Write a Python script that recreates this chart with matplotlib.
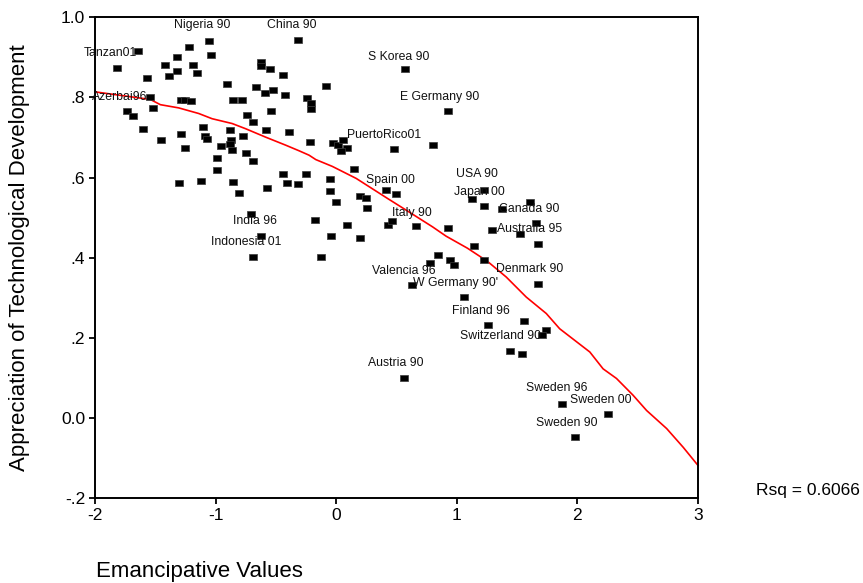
import matplotlib
matplotlib.use("Agg")
import matplotlib.pyplot as plt
from matplotlib.ticker import FixedLocator, FixedFormatter

plt.rcParams['font.family'] = ['Liberation Sans', 'DejaVu Sans']

# ---- data: Emancipative Values (x) vs Appreciation of Technological Development (y)
emancipative = [
    -1.64, -1.819, -1.569, -1.422, -1.320, -1.217, -1.051, -1.037, -1.187, -1.154,
    -1.320, -1.389, -0.317, -0.622, -0.622, -0.552, -0.439, -0.904, -0.668, -0.591,
    -0.522, -0.425, -1.541, -1.736, -1.686, -1.520, -1.283, -1.250, -1.200, -0.857,
    -0.785, -0.539, -0.738, -1.603, -1.104, -0.884, -0.688, -0.585, -0.391, -1.450,
    -1.287, -1.090, -1.071, -0.871, -0.771, -1.250, -0.954, -0.884, -0.868, -0.751,
    -0.987, -0.688, -0.987, -0.439, -1.119, -0.854, 0.573, -0.086, -0.239, -0.211,
    -0.206, 0.925, -0.219, -0.026, 0.012, 0.058, 0.093, 0.041, 0.477, 0.806,
    0.146, -0.254, -0.055, -0.317, -0.055, 0.412, 0.494, 0.195, 0.246, -0.003,
    0.259, -0.177, 0.093, 0.426, 0.462, 0.662, 0.925, -0.040, 0.195, -0.123,
    1.224, 1.127, 1.224, 1.377, 1.610, 1.658, 1.294, 1.523, 1.674, 1.144,
    0.843, 0.775, 0.944, 0.978, 1.224, 0.627, 1.057, 1.676, 1.259, 1.556,
    1.742, 1.709, 1.443, 1.543, 0.559, 1.872, 2.255, 1.978, -0.705, -0.622,
    -0.688, -1.306, -0.807, -0.572, -0.406,
]
technology = [
    0.916, 0.873, 0.849, 0.882, 0.901, 0.926, 0.941, 0.905, 0.882, 0.861,
    0.865, 0.853, 0.944, 0.888, 0.878, 0.870, 0.857, 0.833, 0.825, 0.810,
    0.818, 0.805, 0.801, 0.766, 0.753, 0.774, 0.793, 0.793, 0.790, 0.793,
    0.793, 0.766, 0.757, 0.722, 0.726, 0.718, 0.738, 0.718, 0.713, 0.693,
    0.710, 0.703, 0.697, 0.693, 0.705, 0.675, 0.678, 0.685, 0.670, 0.661,
    0.650, 0.641, 0.618, 0.610, 0.591, 0.590, 0.870, 0.829, 0.799, 0.785,
    0.770, 0.766, 0.689, 0.686, 0.681, 0.693, 0.675, 0.666, 0.672, 0.682,
    0.622, 0.610, 0.596, 0.585, 0.566, 0.570, 0.558, 0.553, 0.550, 0.538,
    0.523, 0.494, 0.483, 0.483, 0.491, 0.479, 0.474, 0.454, 0.450, 0.403,
    0.570, 0.546, 0.529, 0.521, 0.538, 0.487, 0.470, 0.459, 0.434, 0.430,
    0.406, 0.386, 0.395, 0.383, 0.394, 0.331, 0.303, 0.335, 0.232, 0.242,
    0.220, 0.207, 0.167, 0.159, 0.099, 0.036, 0.011, -0.047, 0.510, 0.454,
    0.402, 0.587, 0.562, 0.574, 0.587,
]

# ---- fitted (loess-type) curve
fit_x = [-2.0, -1.541, -1.458, -1.306, -1.140, -1.029, -0.863, -0.751, -0.585, -0.419,
         -0.308, -0.225, -0.169, -0.032, 0.166, 0.426, 0.606, 0.800, 0.911, 1.088,
         1.255, 1.410, 1.576, 1.742, 1.853, 2.103, 2.213, 2.324, 2.462, 2.574,
         2.740, 2.878, 3.0]
fit_y = [0.814, 0.795, 0.782, 0.774, 0.760, 0.747, 0.735, 0.722, 0.701, 0.681,
         0.667, 0.656, 0.645, 0.628, 0.598, 0.548, 0.514, 0.477, 0.454, 0.424,
         0.391, 0.352, 0.302, 0.261, 0.223, 0.165, 0.123, 0.099, 0.057, 0.019,
         -0.026, -0.073, -0.118]
rsq_text = "Rsq = 0.6066"

# ---- case labels
case_labels = ["Tanzan01", "Nigeria 90", "China 90", "S Korea 90", "E Germany 90",
               "Azerbai96", "PuertoRico01", "Spain 00", "USA 90", "Japan 00",
               "Canada 90", "Australia 95", "Italy 90", "Valencia 96", "W Germany 90'",
               "Denmark 90", "Finland 96", "Switzerland 90", "Austria 90", "Sweden 96",
               "Sweden 00", "Sweden 90", "India 96", "Indonesia 01"]
case_label_x = [-2.096, -1.347, -0.572, 0.260, 0.529, -2.021, 0.088, 0.246, 0.994, 0.980,
                1.354, 1.332, 0.462, 0.296, 0.634, 1.327, 0.961, 1.028, 0.260, 1.576,
                1.942, 1.659, -0.854, -1.034]
case_label_y = [0.911, 0.980, 0.980, 0.901, 0.800, 0.800, 0.706, 0.593, 0.608, 0.563,
                0.521, 0.471, 0.512, 0.367, 0.338, 0.371, 0.267, 0.205, 0.137, 0.074,
                0.046, -0.012, 0.492, 0.439]

x_ticks = [-2, -1, 0, 1, 2, 3]
x_tick_labels = ["-2", "-1", "0", "1", "2", "3"]
y_ticks = [-0.2, 0.0, 0.2, 0.4, 0.6, 0.8, 1.0]
y_tick_labels = ["-.2", "0.0", ".2", ".4", ".6", ".8", "1.0"]

fig = plt.figure(figsize=(8.63, 5.83), dpi=100)
ax = fig.add_axes([95 / 863, 1 - 498.3 / 583, (698 - 95) / 863, (498.3 - 17.3) / 583])

rect = [(-1, -0.72), (1, -0.72), (1, 0.72), (-1, 0.72), (-1, -0.72)]
ax.plot(emancipative, technology, linestyle='none', marker=rect, markersize=5.5,
        markerfacecolor='black', markeredgecolor='#3a3a3a', markeredgewidth=0.5,
        zorder=3)
ax.plot(fit_x, fit_y, color='#ff0000', linewidth=1.2, zorder=2, clip_on=False)

for lab, lx, ly in zip(case_labels, case_label_x, case_label_y):
    ax.text(lx, ly, lab, fontsize=8.8, ha='left', va='center', color='#111111',
            zorder=4, clip_on=False)

ax.set_xlim(-2, 3)
ax.set_ylim(-0.2, 1.0)
ax.xaxis.set_major_locator(FixedLocator(x_ticks))
ax.xaxis.set_major_formatter(FixedFormatter(x_tick_labels))
ax.yaxis.set_major_locator(FixedLocator(y_ticks))
ax.yaxis.set_major_formatter(FixedFormatter(y_tick_labels))
ax.tick_params(axis='both', direction='out', length=4, width=1.3, labelsize=12.5,
               color='black', labelcolor='black', pad=3)
for s in ax.spines.values():
    s.set_linewidth(1.4)
    s.set_color('black')

fig.text(20 / 863, 1 - 258 / 583, "Appreciation of Technological Development",
         rotation=90, ha='center', va='center', fontsize=16)
fig.text(96 / 863, 1 - 571 / 583, "Emancipative Values", ha='left', va='center',
         fontsize=16)
fig.text(756 / 863, 1 - 490 / 583, rsq_text, ha='left', va='center', fontsize=12.5)

fig.savefig("out.png", dpi=100)
